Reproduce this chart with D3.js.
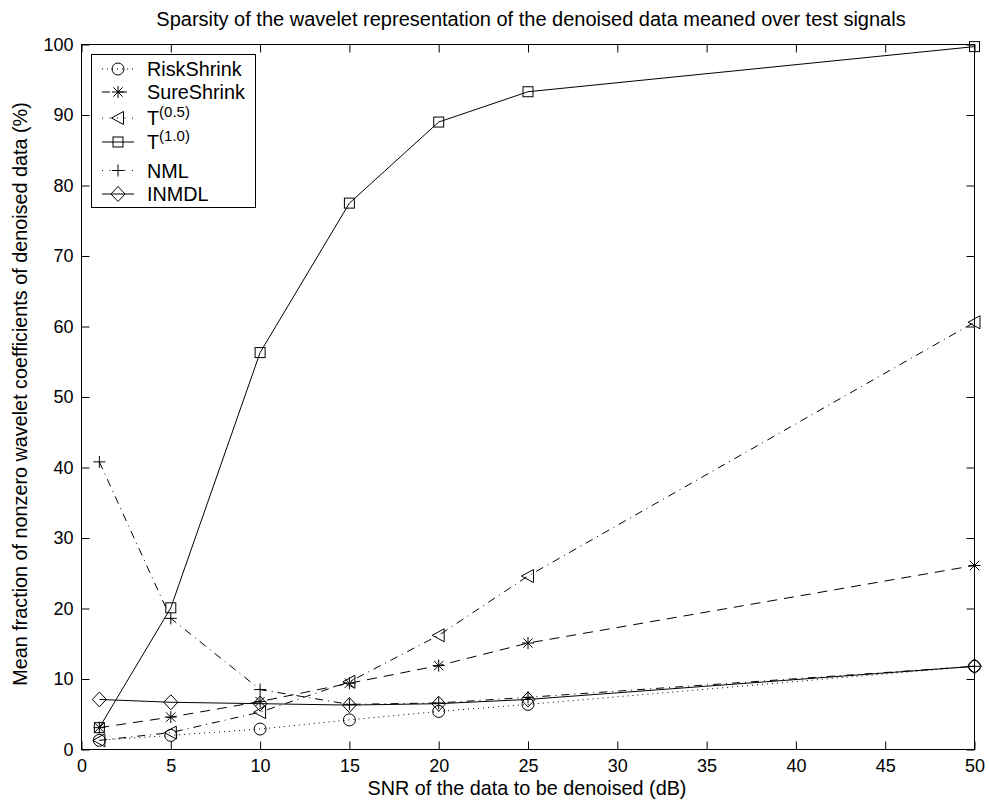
<!DOCTYPE html>
<html>
<head>
<meta charset="utf-8">
<script src="https://cdn.jsdelivr.net/npm/d3@7"></script>
<style>
  html, body { margin: 0; padding: 0; background: #fff; }
  text { font-family: "Liberation Sans", Arial, Helvetica, sans-serif; fill: #000; }
</style>
</head>
<body>
<svg id="chart" width="989" height="804"></svg>
<script>
// SNR levels (dB) at which each method was evaluated
const snr = [1, 5, 10, 15, 20, 25, 50];

// Mean fraction of nonzero wavelet coefficients (%) per method
const riskShrink = [1.3, 2.0, 2.9, 4.2, 5.4, 6.4, 11.8];
const sureShrink = [3.1, 4.6, 6.8, 9.4, 11.9, 15.1, 26.1];
const t05        = [1.3, 2.4, 5.3, 9.6, 16.2, 24.6, 60.6];
const t10        = [3.1, 20.1, 56.3, 77.5, 89.0, 93.3, 99.7];
const nml        = [40.8, 18.6, 8.5, 6.4, 6.6, 7.4, 11.8];
const inmdl      = [7.1, 6.7, 6.5, 6.3, 6.5, 7.1, 11.8];

const xTicks = [0, 5, 10, 15, 20, 25, 30, 35, 40, 45, 50];
const yTicks = [0, 10, 20, 30, 40, 50, 60, 70, 80, 90, 100];

const series = [
  { name: "RiskShrink", sup: null,    values: riskShrink, marker: "circle",   dash: "1,4",     legDash: "1,4" },
  { name: "SureShrink", sup: null,    values: sureShrink, marker: "star",     dash: "10,7",    legDash: "10,7" },
  { name: "T",          sup: "(0.5)", values: t05,        marker: "triangle", dash: "8,5,1,5", legDash: "1,6.5" },
  { name: "T",          sup: "(1.0)", values: t10,        marker: "square",   dash: null,      legDash: null },
  { name: "NML",        sup: null,    values: nml,        marker: "plus",     dash: "8,5,1,5", legDash: "1,6.5" },
  { name: "INMDL",      sup: null,    values: inmdl,      marker: "diamond",  dash: null,      legDash: null }
];

const svg = d3.select("#chart");
const m = { left: 81.5, right: 974.5, top: 44.5, bottom: 749.5 };

const x = d3.scaleLinear().domain([0, 50]).range([m.left, m.right]);
const y = d3.scaleLinear().domain([0, 100]).range([m.bottom, m.top]);

// Axes box with inward ticks on all four sides
const tickLen = 8;
const tickFont = 18;
const gAxes = svg.append("g");
gAxes.append("rect")
  .attr("x", m.left).attr("y", m.top)
  .attr("width", m.right - m.left).attr("height", m.bottom - m.top)
  .attr("fill", "none").attr("stroke", "#000").attr("stroke-width", 1);

const bottomAxis = d3.axisBottom(x).tickValues(xTicks).tickSize(-tickLen).tickPadding(10).tickFormat(d3.format("d"));
const topAxis = d3.axisTop(x).tickValues(xTicks).tickSize(-tickLen).tickFormat("");
const leftAxis = d3.axisLeft(y).tickValues(yTicks).tickSize(-tickLen).tickPadding(8).tickFormat(d3.format("d"));
const rightAxis = d3.axisRight(y).tickValues(yTicks).tickSize(-tickLen).tickFormat("");

function styleAxis(g) {
  g.select(".domain").remove();
  g.selectAll(".tick line").attr("stroke", "#000").attr("stroke-width", 1);
  g.selectAll(".tick text").attr("font-size", tickFont)
    .attr("font-family", "Liberation Sans, Arial, sans-serif").attr("fill", "#000");
}
gAxes.append("g").attr("transform", `translate(0,${m.bottom})`).call(bottomAxis).call(styleAxis);
gAxes.append("g").attr("transform", `translate(0,${m.top})`).call(topAxis).call(styleAxis);
gAxes.append("g").attr("transform", `translate(${m.left},0)`).call(leftAxis).call(styleAxis);
gAxes.append("g").attr("transform", `translate(${m.right},0)`).call(rightAxis).call(styleAxis);

// Titles
const cx = (m.left + m.right) / 2;
svg.append("text").attr("x", cx + 3).attr("y", 26)
  .attr("text-anchor", "middle").attr("font-size", 20)
  .text("Sparsity of the wavelet representation of the denoised data meaned over test signals");
svg.append("text").attr("x", cx - 1).attr("y", 795)
  .attr("text-anchor", "middle").attr("font-size", 19.8)
  .text("SNR of the data to be denoised (dB)");
svg.append("text")
  .attr("transform", `translate(27,394) rotate(-90)`)
  .attr("text-anchor", "middle").attr("font-size", 19.8)
  .text("Mean fraction of nonzero wavelet coefficients of denoised data (%)");

// Marker shapes
function drawMarker(g, type, px, py) {
  const s = "#000", w = 1;
  if (type === "circle") {
    g.append("circle").attr("cx", px).attr("cy", py).attr("r", 6)
      .attr("fill", "none").attr("stroke", s).attr("stroke-width", w);
  } else if (type === "square") {
    g.append("rect").attr("x", px - 5).attr("y", py - 5).attr("width", 10).attr("height", 10)
      .attr("fill", "none").attr("stroke", s).attr("stroke-width", w);
  } else if (type === "triangle") {
    g.append("path").attr("d", `M${px - 6.5},${py} L${px + 5.5},${py - 6.5} L${px + 5.5},${py + 6.5} Z`)
      .attr("fill", "none").attr("stroke", s).attr("stroke-width", w);
  } else if (type === "diamond") {
    g.append("path").attr("d", `M${px},${py - 7.5} L${px + 7},${py} L${px},${py + 7.5} L${px - 7},${py} Z`)
      .attr("fill", "none").attr("stroke", s).attr("stroke-width", w);
  } else if (type === "plus") {
    g.append("path").attr("d", `M${px - 6},${py} H${px + 6} M${px},${py - 6} V${py + 6}`)
      .attr("fill", "none").attr("stroke", s).attr("stroke-width", w);
  } else if (type === "star") {
    const r = 6, d = r * 0.78;
    g.append("path").attr("d",
      `M${px - r},${py} H${px + r} M${px},${py - r} V${py + r} ` +
      `M${px - d},${py - d} L${px + d},${py + d} M${px - d},${py + d} L${px + d},${py - d}`)
      .attr("fill", "none").attr("stroke", s).attr("stroke-width", w);
  }
}

// Series lines and markers
const line = d3.line().x(d => x(d[0])).y(d => y(d[1]));
const gData = svg.append("g");
series.forEach(sr => {
  const pts = snr.map((v, i) => [v, sr.values[i]]);
  gData.append("path").datum(pts).attr("d", line)
    .attr("fill", "none").attr("stroke", "#000").attr("stroke-width", 1)
    .attr("stroke-dasharray", sr.dash);
  const gm = gData.append("g");
  pts.forEach(p => drawMarker(gm, sr.marker, x(p[0]), y(p[1])));
});

// Legend
const leg = svg.append("g");
leg.append("rect").attr("x", 91.5).attr("y", 54.5).attr("width", 164).attr("height", 153)
  .attr("fill", "#fff").attr("stroke", "#000").attr("stroke-width", 1);
const legY = [69, 92, 118, 142, 170.5, 194];
series.forEach((sr, i) => {
  const ly = legY[i];
  leg.append("line").attr("x1", 102).attr("x2", 134).attr("y1", ly).attr("y2", ly)
    .attr("stroke", "#000").attr("stroke-width", 1)
    .attr("stroke-dasharray", sr.legDash)
    .attr("stroke-dashoffset", sr.legDash === "10,7" ? 2 : 0);
  drawMarker(leg, sr.marker, 118, ly);
  const t = leg.append("text").attr("x", 147).attr("y", ly + 7).attr("font-size", 19.8);
  t.append("tspan").text(sr.name);
  if (sr.sup) {
    t.append("tspan").attr("dy", -8).attr("font-size", 15).text(sr.sup);
  }
});
</script>
</body>
</html>
